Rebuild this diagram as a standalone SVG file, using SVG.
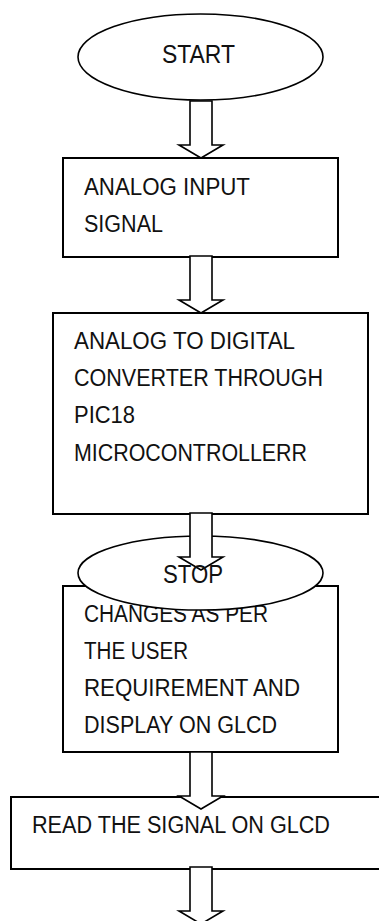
<svg xmlns="http://www.w3.org/2000/svg" width="379" height="921" viewBox="0 0 379 921">
<style>
.box{fill:#fff;stroke:#000;stroke-width:2}
.term{fill:#fff;stroke:#000;stroke-width:1.6}
.arrow{fill:#fff;stroke:#000;stroke-width:1.6;stroke-linejoin:miter}
.t{font-family:"Liberation Sans",Arial,sans-serif;font-size:23px;fill:#111}
.tt{font-family:"Liberation Sans",Arial,sans-serif;font-size:25px;fill:#111}
</style>
<defs>
<path id="blk" d="M-11,0 L11,0 L11,44 L22,44 L0,57 L-22,44 L-11,44 Z"/>
</defs>
<rect x="0" y="0" width="379" height="921" fill="#fff"/>
<g id="box1">
<rect class="box" x="63" y="158" width="275" height="99"/>
<text class="t" x="84" y="195" textLength="166" lengthAdjust="spacingAndGlyphs">ANALOG INPUT</text>
<text class="t" x="84" y="232" textLength="79" lengthAdjust="spacingAndGlyphs">SIGNAL</text>
</g>
<g id="box2">
<rect class="box" x="53" y="313" width="315" height="201"/>
<text class="t" x="74" y="349" textLength="221" lengthAdjust="spacingAndGlyphs">ANALOG TO DIGITAL</text>
<text class="t" x="74" y="386" textLength="249" lengthAdjust="spacingAndGlyphs">CONVERTER THROUGH</text>
<text class="t" x="74" y="423" textLength="61" lengthAdjust="spacingAndGlyphs">PIC18</text>
<text class="t" x="74" y="461" textLength="233" lengthAdjust="spacingAndGlyphs">MICROCONTROLLERR</text>
</g>
<g id="box3">
<rect class="box" x="63" y="586" width="275" height="166"/>
<text class="t" x="84" y="622" textLength="184" lengthAdjust="spacingAndGlyphs">CHANGES AS PER</text>
<text class="t" x="84" y="659" textLength="104" lengthAdjust="spacingAndGlyphs">THE USER</text>
<text class="t" x="84" y="696" textLength="216" lengthAdjust="spacingAndGlyphs">REQUIREMENT AND</text>
<text class="t" x="84" y="733" textLength="193" lengthAdjust="spacingAndGlyphs">DISPLAY ON GLCD</text>
</g>
<g id="box4">
<rect class="box" x="11" y="797" width="372" height="72"/>
<text class="t" x="32" y="833" textLength="298" lengthAdjust="spacingAndGlyphs">READ THE SIGNAL ON GLCD</text>
</g>
<g id="start">
<ellipse class="term" cx="200.5" cy="57" rx="122.5" ry="43"/>
<text class="tt" x="162" y="63" textLength="73" lengthAdjust="spacingAndGlyphs">START</text>
</g>
<g id="stop">
<ellipse class="term" cx="200.5" cy="573" rx="122.5" ry="37"/>
</g>
<g id="connectors">
<use href="#blk" class="arrow" transform="translate(201,101)"/>
<use href="#blk" class="arrow" transform="translate(201,256)"/>
<use href="#blk" class="arrow" transform="translate(201,513)"/>
<use href="#blk" class="arrow" transform="translate(201,752)"/>
<use href="#blk" class="arrow" transform="translate(201,867)"/>
</g>
<g id="stop-label">
<text class="tt" x="163" y="583" textLength="60" lengthAdjust="spacingAndGlyphs">STOP</text>
</g>
</svg>
